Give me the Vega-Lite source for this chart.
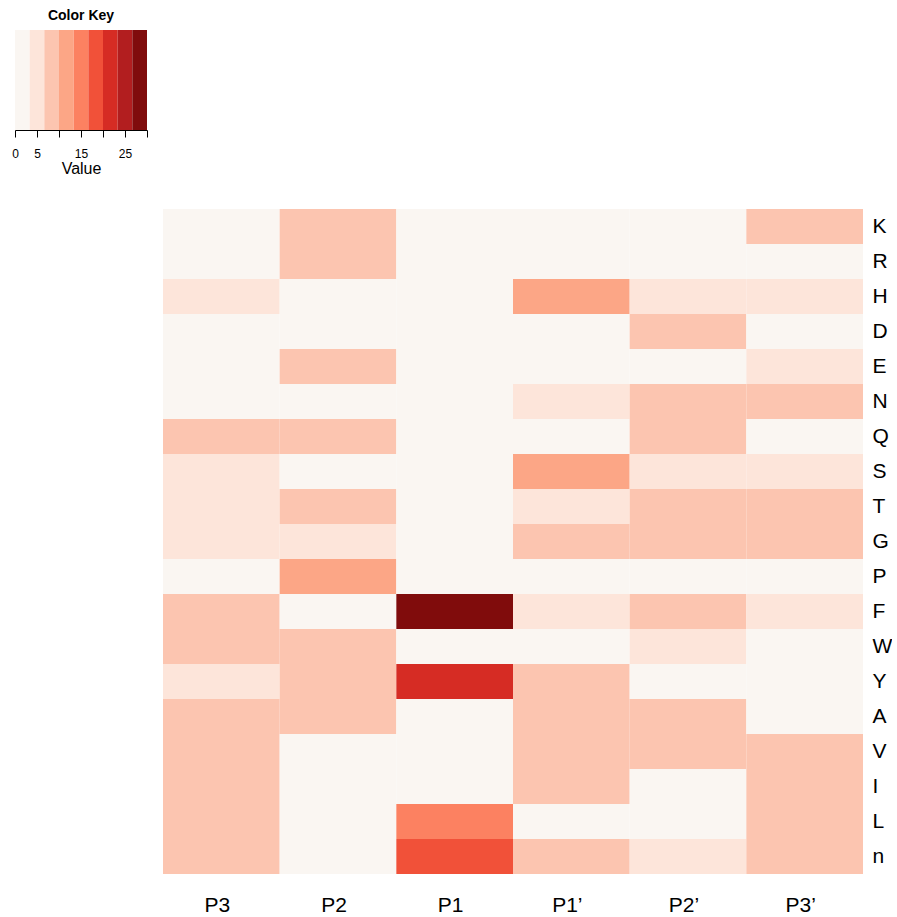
{
  "$schema": "https://vega.github.io/schema/vega-lite/v6.json",
  "background": "white",
  "padding": {"left": 11, "top": 9, "right": 0, "bottom": 0},
  "config": {"view": {"stroke": null}, "font": "Liberation Sans", "concat": {"spacing": 33}},
  "datasets": {
    "key": [
      {"lo": 0, "hi": 3.333, "mid": 1.667},
      {"lo": 3.333, "hi": 6.667, "mid": 5},
      {"lo": 6.667, "hi": 10, "mid": 8.333},
      {"lo": 10, "hi": 13.333, "mid": 11.667},
      {"lo": 13.333, "hi": 16.667, "mid": 15},
      {"lo": 16.667, "hi": 20, "mid": 18.333},
      {"lo": 20, "hi": 23.333, "mid": 21.667},
      {"lo": 23.333, "hi": 26.667, "mid": 25},
      {"lo": 26.667, "hi": 30, "mid": 28.333}
    ],
    "heat": [
      {"pos": "P3", "aa": "K", "v": 1}, {"pos": "P2", "aa": "K", "v": 8}, {"pos": "P1", "aa": "K", "v": 1}, {"pos": "P1’", "aa": "K", "v": 1}, {"pos": "P2’", "aa": "K", "v": 1}, {"pos": "P3’", "aa": "K", "v": 8},
      {"pos": "P3", "aa": "R", "v": 1}, {"pos": "P2", "aa": "R", "v": 8}, {"pos": "P1", "aa": "R", "v": 1}, {"pos": "P1’", "aa": "R", "v": 1}, {"pos": "P2’", "aa": "R", "v": 1}, {"pos": "P3’", "aa": "R", "v": 1},
      {"pos": "P3", "aa": "H", "v": 5}, {"pos": "P2", "aa": "H", "v": 1}, {"pos": "P1", "aa": "H", "v": 1}, {"pos": "P1’", "aa": "H", "v": 12}, {"pos": "P2’", "aa": "H", "v": 5}, {"pos": "P3’", "aa": "H", "v": 5},
      {"pos": "P3", "aa": "D", "v": 1}, {"pos": "P2", "aa": "D", "v": 1}, {"pos": "P1", "aa": "D", "v": 1}, {"pos": "P1’", "aa": "D", "v": 1}, {"pos": "P2’", "aa": "D", "v": 8}, {"pos": "P3’", "aa": "D", "v": 1},
      {"pos": "P3", "aa": "E", "v": 1}, {"pos": "P2", "aa": "E", "v": 8}, {"pos": "P1", "aa": "E", "v": 1}, {"pos": "P1’", "aa": "E", "v": 1}, {"pos": "P2’", "aa": "E", "v": 1}, {"pos": "P3’", "aa": "E", "v": 5},
      {"pos": "P3", "aa": "N", "v": 1}, {"pos": "P2", "aa": "N", "v": 1}, {"pos": "P1", "aa": "N", "v": 1}, {"pos": "P1’", "aa": "N", "v": 5}, {"pos": "P2’", "aa": "N", "v": 8}, {"pos": "P3’", "aa": "N", "v": 8},
      {"pos": "P3", "aa": "Q", "v": 8}, {"pos": "P2", "aa": "Q", "v": 8}, {"pos": "P1", "aa": "Q", "v": 1}, {"pos": "P1’", "aa": "Q", "v": 1}, {"pos": "P2’", "aa": "Q", "v": 8}, {"pos": "P3’", "aa": "Q", "v": 1},
      {"pos": "P3", "aa": "S", "v": 5}, {"pos": "P2", "aa": "S", "v": 1}, {"pos": "P1", "aa": "S", "v": 1}, {"pos": "P1’", "aa": "S", "v": 12}, {"pos": "P2’", "aa": "S", "v": 5}, {"pos": "P3’", "aa": "S", "v": 5},
      {"pos": "P3", "aa": "T", "v": 5}, {"pos": "P2", "aa": "T", "v": 8}, {"pos": "P1", "aa": "T", "v": 1}, {"pos": "P1’", "aa": "T", "v": 5}, {"pos": "P2’", "aa": "T", "v": 8}, {"pos": "P3’", "aa": "T", "v": 8},
      {"pos": "P3", "aa": "G", "v": 5}, {"pos": "P2", "aa": "G", "v": 5}, {"pos": "P1", "aa": "G", "v": 1}, {"pos": "P1’", "aa": "G", "v": 8}, {"pos": "P2’", "aa": "G", "v": 8}, {"pos": "P3’", "aa": "G", "v": 8},
      {"pos": "P3", "aa": "P", "v": 1}, {"pos": "P2", "aa": "P", "v": 12}, {"pos": "P1", "aa": "P", "v": 1}, {"pos": "P1’", "aa": "P", "v": 1}, {"pos": "P2’", "aa": "P", "v": 1}, {"pos": "P3’", "aa": "P", "v": 1},
      {"pos": "P3", "aa": "F", "v": 8}, {"pos": "P2", "aa": "F", "v": 1}, {"pos": "P1", "aa": "F", "v": 29}, {"pos": "P1’", "aa": "F", "v": 5}, {"pos": "P2’", "aa": "F", "v": 8}, {"pos": "P3’", "aa": "F", "v": 5},
      {"pos": "P3", "aa": "W", "v": 8}, {"pos": "P2", "aa": "W", "v": 8}, {"pos": "P1", "aa": "W", "v": 1}, {"pos": "P1’", "aa": "W", "v": 1}, {"pos": "P2’", "aa": "W", "v": 5}, {"pos": "P3’", "aa": "W", "v": 1},
      {"pos": "P3", "aa": "Y", "v": 5}, {"pos": "P2", "aa": "Y", "v": 8}, {"pos": "P1", "aa": "Y", "v": 22}, {"pos": "P1’", "aa": "Y", "v": 8}, {"pos": "P2’", "aa": "Y", "v": 1}, {"pos": "P3’", "aa": "Y", "v": 1},
      {"pos": "P3", "aa": "A", "v": 8}, {"pos": "P2", "aa": "A", "v": 8}, {"pos": "P1", "aa": "A", "v": 1}, {"pos": "P1’", "aa": "A", "v": 8}, {"pos": "P2’", "aa": "A", "v": 8}, {"pos": "P3’", "aa": "A", "v": 1},
      {"pos": "P3", "aa": "V", "v": 8}, {"pos": "P2", "aa": "V", "v": 1}, {"pos": "P1", "aa": "V", "v": 1}, {"pos": "P1’", "aa": "V", "v": 8}, {"pos": "P2’", "aa": "V", "v": 8}, {"pos": "P3’", "aa": "V", "v": 8},
      {"pos": "P3", "aa": "I", "v": 8}, {"pos": "P2", "aa": "I", "v": 1}, {"pos": "P1", "aa": "I", "v": 1}, {"pos": "P1’", "aa": "I", "v": 8}, {"pos": "P2’", "aa": "I", "v": 1}, {"pos": "P3’", "aa": "I", "v": 8},
      {"pos": "P3", "aa": "L", "v": 8}, {"pos": "P2", "aa": "L", "v": 1}, {"pos": "P1", "aa": "L", "v": 15}, {"pos": "P1’", "aa": "L", "v": 1}, {"pos": "P2’", "aa": "L", "v": 1}, {"pos": "P3’", "aa": "L", "v": 8},
      {"pos": "P3", "aa": "n", "v": 8}, {"pos": "P2", "aa": "n", "v": 1}, {"pos": "P1", "aa": "n", "v": 18}, {"pos": "P1’", "aa": "n", "v": 8}, {"pos": "P2’", "aa": "n", "v": 5}, {"pos": "P3’", "aa": "n", "v": 8}
    ]
  },
  "vconcat": [
    {
      "width": 132,
      "height": 100,
      "title": {"text": "Color Key", "fontSize": 14, "fontWeight": "bold", "anchor": "middle", "offset": 7, "font": "Liberation Sans", "color": "black"},
      "data": {"name": "key"},
      "mark": "rect",
      "encoding": {
        "x": {
          "field": "lo", "type": "quantitative",
          "scale": {"domain": [0, 30], "nice": false, "zero": false},
          "axis": {
            "values": [0, 5, 10, 15, 20, 25, 30],
            "labelExpr": "(datum.value == 10 || datum.value == 20 || datum.value == 30) ? '' : datum.label",
            "tickSize": 7, "tickColor": "black", "domainColor": "black", "tickWidth": 1, "domainWidth": 1,
            "labelFontSize": 12, "labelColor": "black", "labelPadding": 11, "labelFlush": false,
            "grid": false, "title": "Value", "titleFontSize": 16, "titleFontWeight": "normal", "titleColor": "black", "titlePadding": 1
          }
        },
        "x2": {"field": "hi"},
        "color": {
          "field": "mid", "type": "quantitative",
          "scale": {"type": "threshold", "domain": [3.333, 6.667, 10, 13.333, 16.667, 20, 23.333, 26.667],
            "range": ["#faf6f2", "#fde5da", "#fcc5b0", "#fca686", "#fc8161", "#f15139", "#d62c24", "#b21e1f", "#800c0c"]},
          "legend": null
        }
      }
    },
    {
      "width": 848,
      "height": 665,
      "data": {"name": "heat"},
      "mark": "rect",
      "encoding": {
        "x": {
          "field": "pos", "type": "nominal",
          "sort": ["P3", "P2", "P1", "P1’", "P2’", "P3’"],
          "scale": {"paddingInner": 0, "paddingOuter": 0, "range": [148, 848]},
          "axis": {"orient": "bottom", "labelAngle": 0, "ticks": false, "domain": false, "labelFontSize": 21, "labelColor": "black", "labelPadding": 20, "labelOffset": -4, "labelBaseline": "top", "title": null}
        },
        "y": {
          "field": "aa", "type": "nominal",
          "sort": ["K", "R", "H", "D", "E", "N", "Q", "S", "T", "G", "P", "F", "W", "Y", "A", "V", "I", "L", "n"],
          "scale": {"paddingInner": 0, "paddingOuter": 0},
          "axis": {"orient": "right", "ticks": false, "domain": false, "labelFontSize": 21, "labelColor": "black", "labelPadding": 9, "title": null}
        },
        "color": {
          "field": "v", "type": "quantitative",
          "scale": {"type": "threshold", "domain": [3.333, 6.667, 10, 13.333, 16.667, 20, 23.333, 26.667],
            "range": ["#faf6f2", "#fde5da", "#fcc5b0", "#fca686", "#fc8161", "#f15139", "#d62c24", "#b21e1f", "#800c0c"]},
          "legend": null
        }
      }
    }
  ]
}
